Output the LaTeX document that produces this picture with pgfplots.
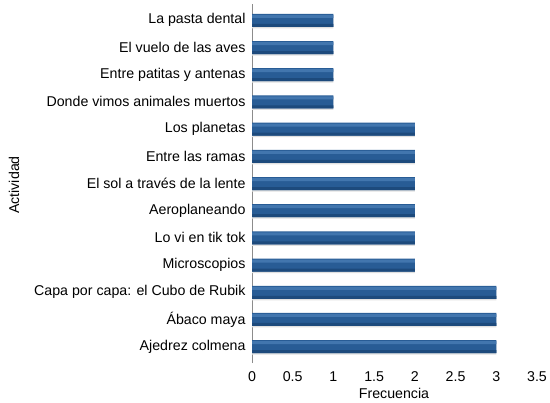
\documentclass[border=0pt]{standalone}
\usepackage{pgfplots}
\pgfplotsset{compat=1.18}
\usepackage{fontspec}
\setmainfont{Liberation Sans}
\definecolor{barlite}{HTML}{4276AE}
\definecolor{barmid}{HTML}{285C95}
\definecolor{barbot}{HTML}{1D4A7C}

\begin{document}
\begin{tikzpicture}[x=1bp,y=1bp]
\useasboundingbox (0,0) rectangle (550,402);
\begin{axis}[
    at={(252bp,39bp)}, anchor=south west,
    scale only axis, width=285bp, height=359bp,
    xmin=0, xmax=3.5, ymin=-0.6, ymax=12.6,
    xtick={0,0.5,1,1.5,2,2.5,3,3.5},
    ytick={0,1,2,3,4,5,6,7,8,9,10,11,12},
    yticklabels={
        {Ajedrez colmena},
        {Ábaco maya},
        {Capa por capa: el Cubo de Rubik},
        {Microscopios},
        {Lo vi en tik tok},
        {Aeroplaneando},
        {El sol a través de la lente},
        {Entre las ramas},
        {Los planetas},
        {Donde vimos animales muertos},
        {Entre patitas y antenas},
        {El vuelo de las aves},
        {La pasta dental}},
    axis lines*=left,
    x axis line style={draw=none},
    y axis line style={draw=black!45, line width=0.6pt, -},
    major tick length=0pt, tick style={draw=none},
    font=\fontsize{14.2bp}{16bp}\selectfont,
    /pgf/number format/assume math mode=true,
    xticklabel style={anchor=center, yshift=-14bp},
    yticklabel style={xshift=-3bp},
]
% shadow
\addplot[xbar, bar width=13bp, bar shift=-1.5bp, draw=none, fill=black!12, forget plot]
    coordinates {(3,0) (3,1) (3,2) (2,3) (2,4) (2,5) (2,6) (2,7) (2,8) (1,9) (1,10) (1,11) (1,12)};
% bars
\addplot[xbar, bar width=13bp, draw=none, fill=barmid]
    coordinates {(3,0) (3,1) (3,2) (2,3) (2,4) (2,5) (2,6) (2,7) (2,8) (1,9) (1,10) (1,11) (1,12)};
% highlight and dark bottom band
\addplot[xbar, bar width=3bp, bar shift=4bp, draw=none, fill=barlite, forget plot]
    coordinates {(3,0) (3,1) (3,2) (2,3) (2,4) (2,5) (2,6) (2,7) (2,8) (1,9) (1,10) (1,11) (1,12)};
\addplot[xbar, bar width=3bp, bar shift=-5bp, draw=none, fill=barbot, forget plot]
    coordinates {(3,0) (3,1) (3,2) (2,3) (2,4) (2,5) (2,6) (2,7) (2,8) (1,9) (1,10) (1,11) (1,12)};
\end{axis}
\node[font=\fontsize{14.2bp}{16bp}\selectfont] at (394,9) {Frecuencia};
\node[rotate=90, font=\fontsize{14.2bp}{16bp}\selectfont] at (14,217) {Actividad};
\end{tikzpicture}
\end{document}
